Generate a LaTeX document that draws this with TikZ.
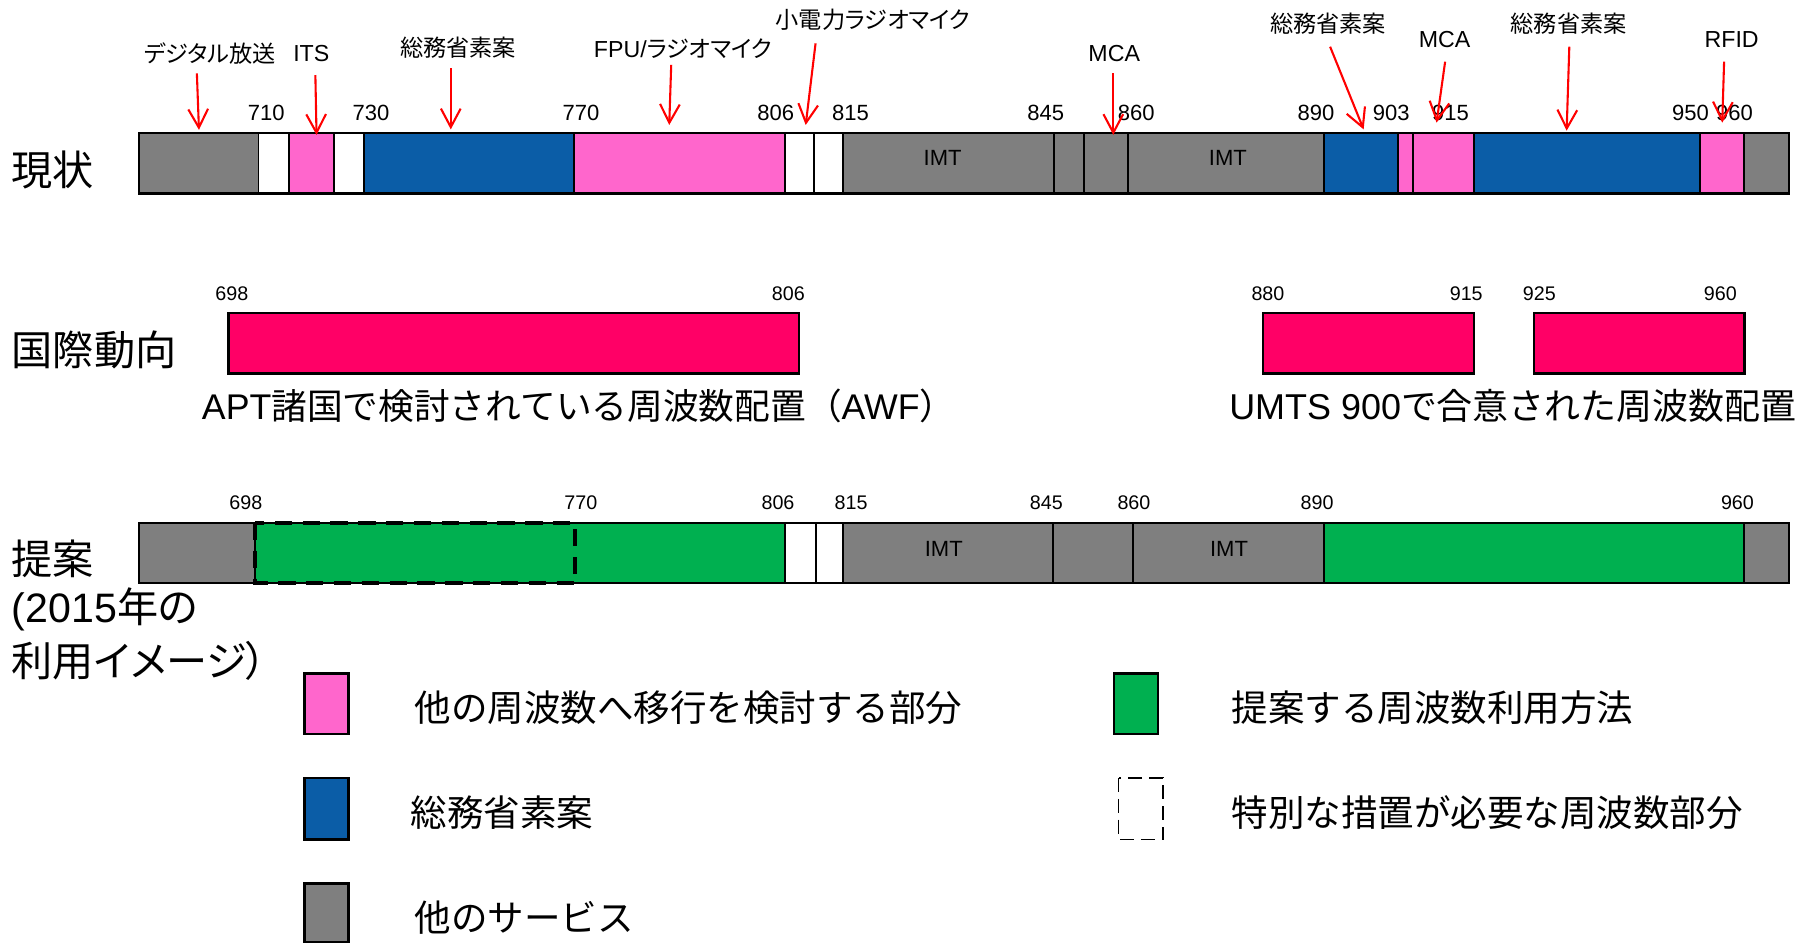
\documentclass[tikz,border=0pt]{standalone}
\usepackage{fontspec}
\setmainfont{Noto Sans CJK JP}
\newfontfamily\arial{Liberation Sans}
\newfontfamily\propjp[RawFeature=+palt]{Noto Sans CJK JP}
\usetikzlibrary{arrows.meta}

\definecolor{svcgray}{HTML}{7F7F7F}
\definecolor{movepink}{HTML}{FF66CC}
\definecolor{draftblue}{HTML}{0B5DA7}
\definecolor{propgreen}{HTML}{00B050}
\definecolor{awfred}{HTML}{FF0066}
\newcommand{\fsz}[1]{\fontsize{#1}{#1}\selectfont}

\tikzset{
  seg/.style={draw=black, line width=1.6pt},
  band/.style={draw=black, line width=2pt},
  freq/.style={font=\arial\fsz{19}, inner sep=0pt},
  freqsmall/.style={font=\arial\fsz{17}, inner sep=0pt},
  svclabel/.style={font=\propjp\fsz{20}, inner sep=0pt},
  rowlabel/.style={font=\fsz{35.5}, inner sep=0pt, anchor=west},
  note/.style={font=\fsz{30.8}, inner sep=0pt, anchor=west},
  legtext/.style={font=\fsz{31.5}, inner sep=0pt, anchor=west},
  swatch/.style={draw=black, line width=2pt},
  pointer/.style={red, line width=1.8pt, -{Straight Barb[length=16pt,width=17pt]}},
}

\begin{document}
\begin{tikzpicture}[x=1pt,y=-1pt]
\useasboundingbox (0,0) rectangle (1568,814);

% row labels
\node[rowlabel] (nowlbl) at (10,147) {現状};
\node[rowlabel] (intllbl) at (10,302) {国際動向};
\node[rowlabel] (proplbl) at (10,482) {提案};
\node[rowlabel,font=\propjp\fsz{35.5}] (propyear) at (10,526) {{\arial (2015}年の};
\node[rowlabel,font=\propjp\fsz{35.5}] (propuse) at (10,570) {利用イメージ）};

% current allocation
\foreach \a/\b/\c in {120/223/svcgray, 223/249/white, 249/288/movepink, 288/314/white,
    314/495/draftblue, 495/677/movepink, 677/702/white, 702/727/white,
    727/909/svcgray, 909/935/svcgray, 935/973/svcgray, 973/1142/svcgray,
    1142/1206/draftblue, 1206/1219/movepink, 1219/1271/movepink, 1271/1466/draftblue,
    1466/1504/movepink, 1504/1543/svcgray}
  \draw[seg,fill=\c] (\a,115) rectangle (\b,167);
\draw[band] (120,115) rectangle (1543,167);
\node[freq] (imtnowa) at (813,136) {IMT};
\node[freq] (imtnowb) at (1059,136) {IMT};

\foreach \x/\f in {229.7/710, 320/730, 501/770, 669/806, 733.5/815, 902/845,
    980/860, 1135/890, 1200/903, 1251/915, 1458/950, 1496/960}
  \node[freq] (now\f) at (\x,97.8) {\f};

% services and pointers
\foreach \n/\t/\cx/\cy/\sx/\sy/\ex/\ey in {
    digital/デジタル放送/181/46/169.8/63.3/171.6/112,
    its/{\arial ITS}/268.5/46/272/64.7/273/116.4,
    drafta/総務省素案/395/41/388.8/59/388.8/111.6,
    fpu/{\arial FPU/}ラジオマイク/589/42/578.9/56/577.2/107.8,
    lowpower/小電力ラジオマイク/753/17/703.4/37.4/694.9/107.8,
    mcaa/{\arial MCA}/961/46/960.2/63.3/960.2/116.4,
    draftb/総務省素案/1145.5/20/1147.2/40.3/1176.1/111.6,
    mcab/{\arial MCA}/1246/34/1246.4/53.2/1239/105.8,
    draftc/総務省素案/1353/20/1353.5/40.3/1351.2/112.7,
    rfid/{\arial RFID}/1493.5/34/1487/53.2/1485.4/105.8}
{
  \node[svclabel] (\n) at (\cx,\cy) {\t};
  \coordinate (\n from) at (\sx,\sy);
  \coordinate (\n to) at (\ex,\ey);
  \draw[pointer] (\n from) -- (\n to);
}

% international trend
\draw[band,fill=awfred] (197,270) rectangle (689,322);
\draw[band,fill=awfred] (1089.5,270) rectangle (1271,322);
\draw[band,fill=awfred] (1323,270) rectangle (1504.5,322);
\foreach \x/\f in {200/698, 680/806, 1093.6/880, 1264.6/915, 1327.7/925, 1483.7/960}
  \node[freqsmall] (intl\f) at (\x,253) {\f};
\node[note] (awfnote) at (174,350) {{\arial APT}諸国で検討されている周波数配置（{\arial AWF}）};
\node[note,font=\fsz{31}] (umtsnote) at (1060,350) {{\arial UMTS 900}で合意された周波数配置};

% proposal
\foreach \a/\b/\c in {120/220/svcgray, 220/677/propgreen, 677/704/white, 704/727/white,
    727/908/svcgray, 908/977/svcgray, 977/1142/svcgray, 1142/1504/propgreen, 1504/1543/svcgray}
  \draw[seg,fill=\c] (\a,451) rectangle (\b,503);
\draw[band] (120,451) rectangle (1543,503);
\draw[line width=3.2pt, dash pattern=on 15pt off 9pt] (220,451) rectangle (496,503);
\node[freq] (imtpropa) at (814,473.5) {IMT};
\node[freq] (imtpropb) at (1060,473.5) {IMT};
\foreach \x/\f in {212/698, 501/770, 671/806, 734/815, 902.5/845, 978/860, 1136/890, 1498.5/960}
  \node[freqsmall] (prop\f) at (\x,434) {\f};

% legend
\draw[swatch,fill=movepink] (262.7,581) rectangle (300.7,633);
\draw[swatch,fill=draftblue] (262.7,671) rectangle (300.7,724);
\draw[swatch,fill=svcgray] (262.7,762) rectangle (300.7,812.6);
\draw[swatch,fill=propgreen] (960.6,581) rectangle (998.7,633);
\draw[line width=1pt, dash pattern=on 12pt off 6pt] (965,671) rectangle (1003,724);
\node[legtext] (legmove) at (357.4,610) {他の周波数へ移行を検討する部分};
\node[legtext] (legdraft) at (354,701) {総務省素案};
\node[legtext] (legother) at (357.4,791) {他のサービス};
\node[legtext] (legprop) at (1062,610) {提案する周波数利用方法};
\node[legtext] (legspecial) at (1062,701) {特別な措置が必要な周波数部分};

\end{tikzpicture}
\end{document}
